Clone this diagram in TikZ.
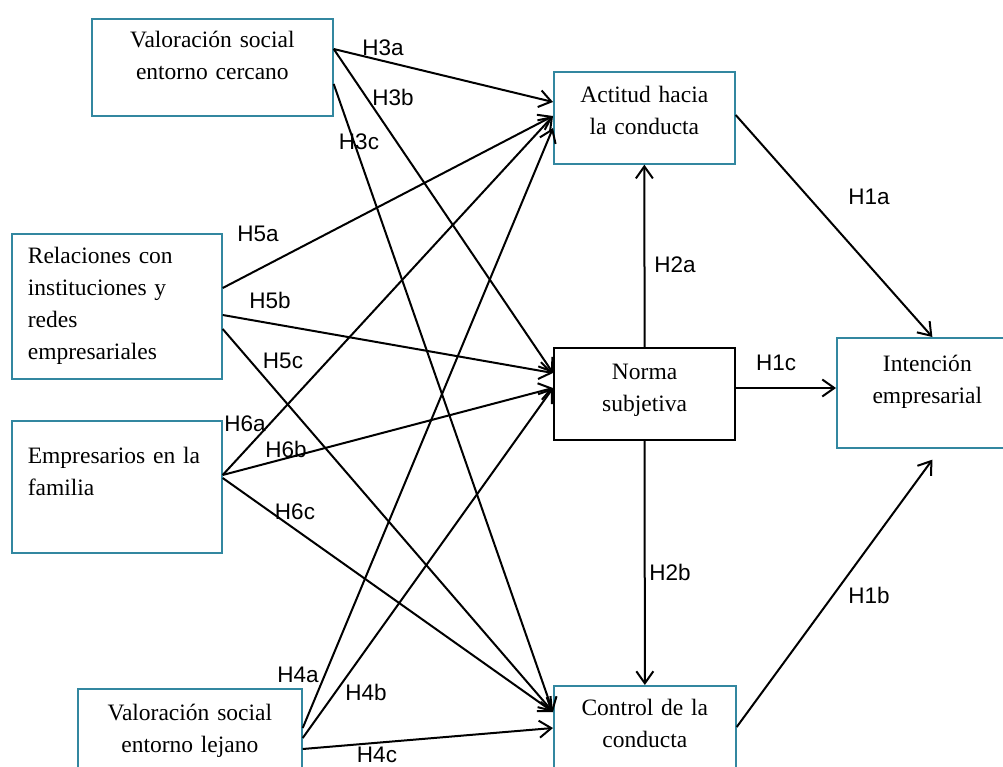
\documentclass[tikz,border=0pt]{standalone}
\usepackage{fontspec}
\setmainfont{Liberation Serif}
\newfontfamily\etiqfont{Liberation Sans}
\usetikzlibrary{arrows.meta, positioning}
\definecolor{azulcaja}{RGB}{50,135,160}

\begin{document}
\begin{tikzpicture}[
            x=1pt, y=-1pt,
            caja/.style={draw=azulcaja, line width=1.7pt, anchor=north west,
                inner xsep=0pt, inner ysep=0pt, align=center,
                font=\fontsize{23.5}{32}\selectfont},
            cajaizq/.style={caja, align=left, inner xsep=16pt},
            etiq/.style={font=\etiqfont\fontsize{22.5}{26}\selectfont, inner sep=0pt},
            flecha/.style={-{Straight Barb[length=12pt, width=17pt]}, line width=2pt},
        ]
            \useasboundingbox (0,0) rectangle (1003,767);
            \clip (0,0) rectangle (1003,767);

            % cajas
            \node[caja, text width=241pt, text height=29pt, text depth=68pt] (vsc) at (91,18)
                {Valoración social\\ entorno cercano};
            \node[cajaizq, text width=178pt, text height=30pt, text depth=115pt] (rel) at (11,233)
                {Relaciones con\\ instituciones y\\ redes\\ empresariales};
            \node[cajaizq, text width=178pt, text height=43pt, text depth=89pt] (emp) at (11,420)
                {Empresarios en la\\ familia};
            \node[caja, text width=224pt, text height=32pt, text depth=100pt] (vsl) at (77,688)
                {Valoración social\\ entorno lejano};
            \node[caja, text width=181pt, text height=31pt, text depth=61pt] (act) at (553,71)
                {Actitud hacia\\ la conducta};
            \node[caja, draw=black, line width=2.2pt, text width=181pt, text height=31pt, text depth=61pt] (norma) at (553,347)
                {Norma\\ subjetiva};
            \node[caja, text width=182pt, text height=30pt, text depth=100pt] (ctrl) at (553,685)
                {Control de la\\ conducta};
            \node[caja, text width=181pt, text height=34pt, text depth=76pt] (int) at (836,337)
                {Intención\\ empresarial};

            % hacia la actitud
            \draw[flecha] ([yshift=-31pt]vsc.north east) -- ([yshift=-31pt]act.north west);
            \draw[flecha] ([yshift=-55pt]rel.north east) -- ([yshift=-45pt]act.north west);
            \draw[flecha] ([yshift=-55pt]emp.north east) -- ([yshift=-45pt]act.north west);
            \draw[flecha] ([yshift=-40pt]vsl.north east) -- ([yshift=-57pt]act.north west);

            % hacia la norma
            \draw[flecha] ([yshift=-31pt]vsc.north east) -- ([yshift=-26pt]norma.north west);
            \draw[flecha] ([yshift=-82pt]rel.north east) -- ([yshift=-26pt]norma.north west);
            \draw[flecha] ([yshift=-55pt]emp.north east) -- ([yshift=-41pt]norma.north west);
            \draw[flecha] ([yshift=-50pt]vsl.north east) -- ([yshift=-41pt]norma.north west);

            % hacia el control
            \draw[flecha] ([yshift=-66pt]vsc.north east) -- ([yshift=-27pt]ctrl.north west);
            \draw[flecha] ([yshift=-96pt]rel.north east) -- ([yshift=-27pt]ctrl.north west);
            \draw[flecha] ([yshift=-58pt]emp.north east) -- ([yshift=-27pt]ctrl.north west);
            \draw[flecha] ([yshift=-61pt]vsl.north east) -- ([yshift=-43pt]ctrl.north west);

            % norma, actitud, control
            \draw[flecha] (norma.north) -- (act.south);
            \draw[flecha] (norma.south) -- (ctrl.north);
            \draw[flecha] ([yshift=-41pt]norma.north east) -- ([yshift=-51pt]int.north west);
            \draw[flecha] ([yshift=-44pt]act.north east) -- ([xshift=5pt]int.north);
            \draw[flecha] ([yshift=-42pt]ctrl.north east) -- ([xshift=5pt, yshift=-11pt]int.south);

            % etiquetas
            \node[etiq] (h3a) at (383,48) {H3a};
            \node[etiq] (h3b) at (393,97) {H3b};
            \node[etiq] (h3c) at (359,142) {H3c};
            \node[etiq] (h5a) at (258,234) {H5a};
            \node[etiq] (h5b) at (270,300) {H5b};
            \node[etiq] (h5c) at (283,361) {H5c};
            \node[etiq] (h6a) at (245,424) {H6a};
            \node[etiq] (h6b) at (286,449) {H6b};
            \node[etiq] (h6c) at (295,512) {H6c};
            \node[etiq] (h4a) at (298,675) {H4a};
            \node[etiq] (h4b) at (366,692) {H4b};
            \node[etiq] (h4c) at (377,755) {H4c};
            \node[etiq] (h2a) at (675,265) {H2a};
            \node[etiq] (h2b) at (670,572) {H2b};
            \node[etiq] (h1c) at (776,363) {H1c};
            \node[etiq] (h1a) at (869,197) {H1a};
            \node[etiq] (h1b) at (869,595) {H1b};
        \end{tikzpicture}
\end{document}
